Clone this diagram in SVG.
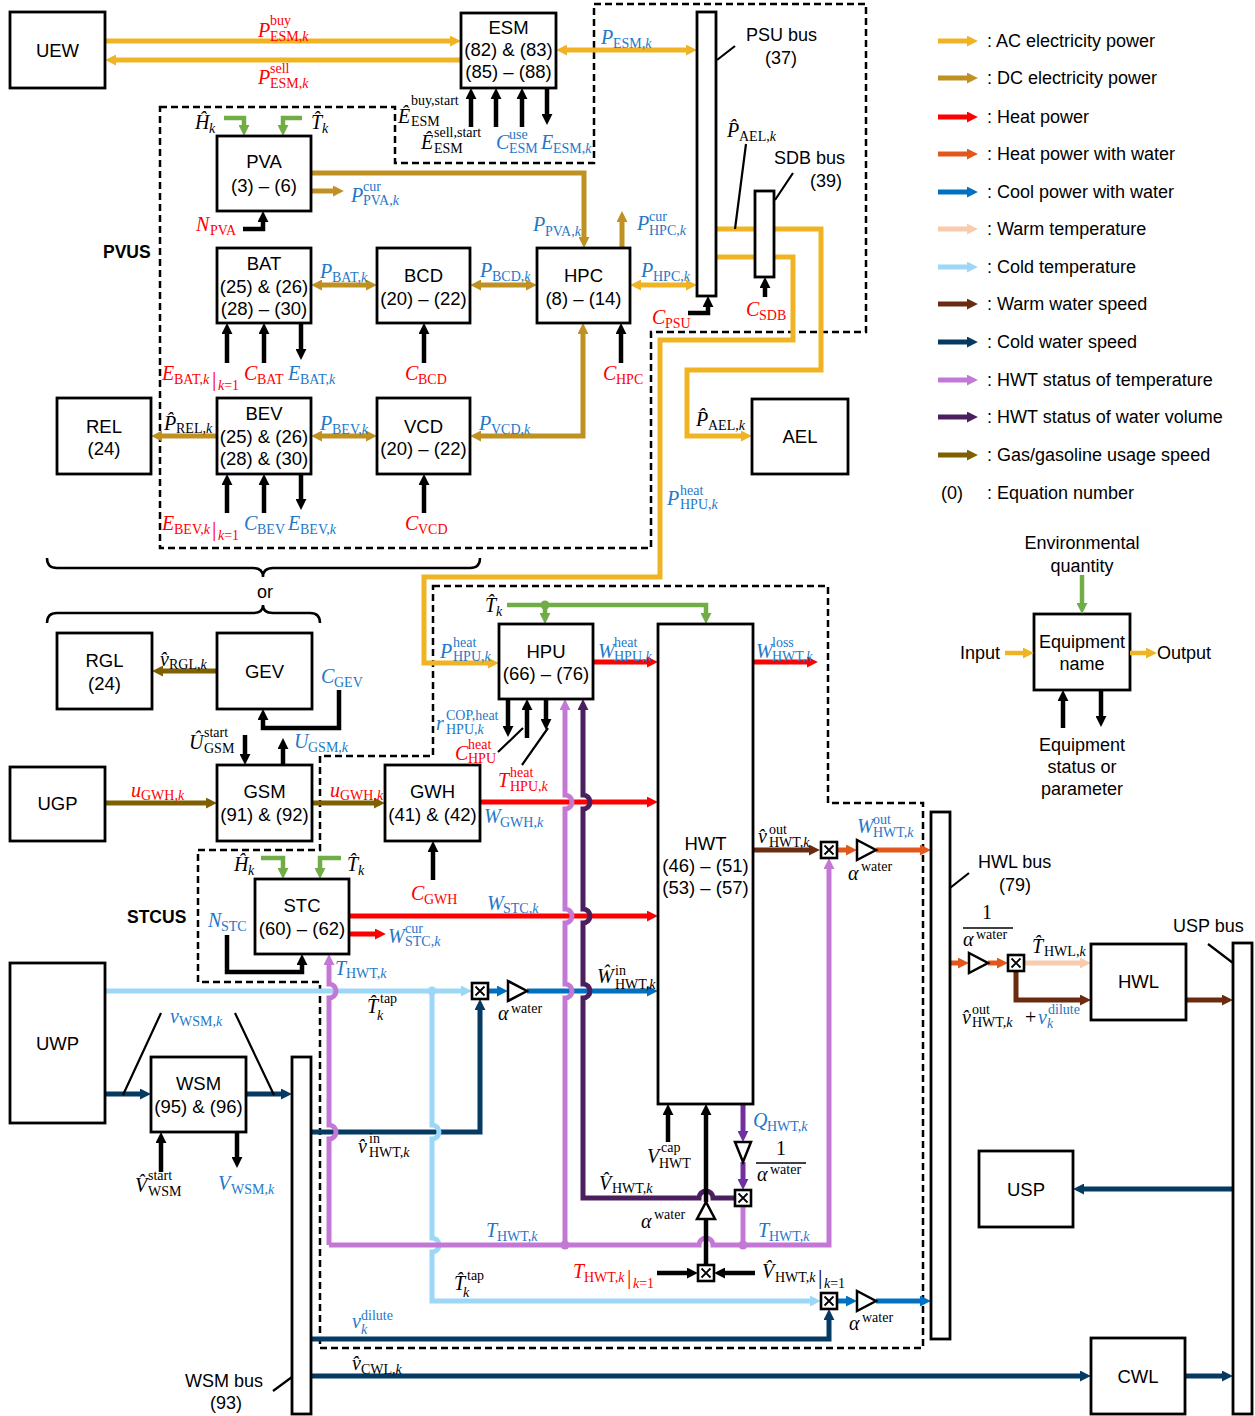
<svg xmlns="http://www.w3.org/2000/svg" width="1255" height="1416" viewBox="0 0 1255 1416">
<style>
.bx{fill:#fff;stroke:#000;stroke-width:2.8}
.t{font-family:"Liberation Sans",Arial,sans-serif;font-size:18.5px;fill:#000;text-anchor:middle}
.tl{font-family:"Liberation Sans",Arial,sans-serif;font-size:18px;fill:#000}
.tc{font-family:"Liberation Sans",Arial,sans-serif;font-size:18px;fill:#000;text-anchor:middle}
.tb{font-family:"Liberation Sans",Arial,sans-serif;font-size:17.5px;font-weight:bold;fill:#000}
.m{font-family:"Liberation Serif","Times New Roman",serif;font-size:20px;font-style:italic;fill:#000}
.s{font-size:14px;font-style:normal}
.i{font-style:italic}
.u{font-style:normal}
.bar{font-size:22px;font-style:normal}
.r{fill:#FF0000}
.b{fill:#1F78C8}
.dash{fill:none;stroke:#000;stroke-width:2.5;stroke-dasharray:7 4}
.thin{fill:none;stroke:#000;stroke-width:2.2}
.ac{stroke:#F0B323}.dc{stroke:#BF9022}.gs{stroke:#7F6000}.ht{stroke:#FF0000}.or{stroke:#E2571B}
.bl{stroke:#0070C0}.wt{stroke:#F8CBAD}.lb{stroke:#9DD7F7}.br{stroke:#6B2B10}.nv{stroke:#053A63}
.vi{stroke:#C478D6}.dp{stroke:#4B1F5E}.pu{stroke:#7030A0}.gr{stroke:#70AD47;stroke-width:4.5}.bk{stroke:#000;stroke-width:4.5}
.tri{fill:#fff;stroke:#000;stroke-width:2.5}
</style>
<defs>
<marker id="mAC" viewBox="0 0 10 10" refX="1" refY="5" markerWidth="11" markerHeight="11" markerUnits="userSpaceOnUse" orient="auto-start-reverse"><path d="M0,0L10,5L0,10Z" fill="#F0B323"/></marker>
<marker id="mDC" viewBox="0 0 10 10" refX="1" refY="5" markerWidth="11" markerHeight="11" markerUnits="userSpaceOnUse" orient="auto-start-reverse"><path d="M0,0L10,5L0,10Z" fill="#BF9022"/></marker>
<marker id="mGS" viewBox="0 0 10 10" refX="1" refY="5" markerWidth="11" markerHeight="11" markerUnits="userSpaceOnUse" orient="auto-start-reverse"><path d="M0,0L10,5L0,10Z" fill="#7F6000"/></marker>
<marker id="mHT" viewBox="0 0 10 10" refX="1" refY="5" markerWidth="11" markerHeight="11" markerUnits="userSpaceOnUse" orient="auto-start-reverse"><path d="M0,0L10,5L0,10Z" fill="#FF0000"/></marker>
<marker id="mOR" viewBox="0 0 10 10" refX="1" refY="5" markerWidth="11" markerHeight="11" markerUnits="userSpaceOnUse" orient="auto-start-reverse"><path d="M0,0L10,5L0,10Z" fill="#E2571B"/></marker>
<marker id="mBL" viewBox="0 0 10 10" refX="1" refY="5" markerWidth="11" markerHeight="11" markerUnits="userSpaceOnUse" orient="auto-start-reverse"><path d="M0,0L10,5L0,10Z" fill="#0070C0"/></marker>
<marker id="mWT" viewBox="0 0 10 10" refX="1" refY="5" markerWidth="11" markerHeight="11" markerUnits="userSpaceOnUse" orient="auto-start-reverse"><path d="M0,0L10,5L0,10Z" fill="#F8CBAD"/></marker>
<marker id="mLB" viewBox="0 0 10 10" refX="1" refY="5" markerWidth="11" markerHeight="11" markerUnits="userSpaceOnUse" orient="auto-start-reverse"><path d="M0,0L10,5L0,10Z" fill="#9DD7F7"/></marker>
<marker id="mBR" viewBox="0 0 10 10" refX="1" refY="5" markerWidth="11" markerHeight="11" markerUnits="userSpaceOnUse" orient="auto-start-reverse"><path d="M0,0L10,5L0,10Z" fill="#6B2B10"/></marker>
<marker id="mNV" viewBox="0 0 10 10" refX="1" refY="5" markerWidth="11" markerHeight="11" markerUnits="userSpaceOnUse" orient="auto-start-reverse"><path d="M0,0L10,5L0,10Z" fill="#053A63"/></marker>
<marker id="mVI" viewBox="0 0 10 10" refX="1" refY="5" markerWidth="11" markerHeight="11" markerUnits="userSpaceOnUse" orient="auto-start-reverse"><path d="M0,0L10,5L0,10Z" fill="#C478D6"/></marker>
<marker id="mDP" viewBox="0 0 10 10" refX="1" refY="5" markerWidth="11" markerHeight="11" markerUnits="userSpaceOnUse" orient="auto-start-reverse"><path d="M0,0L10,5L0,10Z" fill="#4B1F5E"/></marker>
<marker id="mPU" viewBox="0 0 10 10" refX="1" refY="5" markerWidth="11" markerHeight="11" markerUnits="userSpaceOnUse" orient="auto-start-reverse"><path d="M0,0L10,5L0,10Z" fill="#7030A0"/></marker>
<marker id="mGR" viewBox="0 0 10 10" refX="1" refY="5" markerWidth="11" markerHeight="11" markerUnits="userSpaceOnUse" orient="auto-start-reverse"><path d="M0,0L10,5L0,10Z" fill="#70AD47"/></marker>
<marker id="mBK" viewBox="0 0 10 10" refX="1" refY="5" markerWidth="11" markerHeight="11" markerUnits="userSpaceOnUse" orient="auto-start-reverse"><path d="M0,0L10,5L0,10Z" fill="#000"/></marker>
<g id="xb"><rect x="-8" y="-8" width="16" height="16" fill="#fff" stroke="#000" stroke-width="2.6"/><path d="M-4.5,-4.5L4.5,4.5M4.5,-4.5L-4.5,4.5" stroke="#000" stroke-width="1.8"/></g>
</defs>
<rect width="1255" height="1416" fill="#fff"/>

<!-- dashed subsystem boundaries -->
<g id="subsystems">
<path class="dash" d="M160,107H395V163H594V4H866V332H651V548H160Z"/>
<path class="dash" d="M433,586H828V803H923V1348H320V982H198V850H320V756H433Z"/>
<path fill="none" stroke="#000" stroke-width="2.5" d="M47,558Q47,568 57,568H253Q263,568 263,577Q263,568 273,568H470Q480,568 480,558"/>
<path fill="none" stroke="#000" stroke-width="2.5" d="M47,623Q47,613 57,613H253Q263,613 263,605Q263,613 273,613H310Q320,613 320,623"/>
</g>

<g id="connectors" fill="none" stroke-width="5">
<!-- AC -->
<path class="ac" d="M105,41H451" marker-end="url(#mAC)"/>
<path class="ac" d="M461,60H115" marker-end="url(#mAC)"/>
<path class="ac" d="M566,50H687" marker-start="url(#mAC)" marker-end="url(#mAC)"/>
<path class="ac" d="M640,285H687" marker-start="url(#mAC)" marker-end="url(#mAC)"/>
<path class="ac" d="M716,229H821V370H687V436H742" marker-end="url(#mAC)"/>
<path class="ac" d="M716,257H793V340H660V577H424V663H489" marker-end="url(#mAC)"/>
<!-- DC -->
<path class="dc" d="M311,173H584V238" marker-end="url(#mDC)"/>
<path class="dc" d="M311,191H334" marker-end="url(#mDC)"/>
<path class="dc" d="M321,285H367" marker-start="url(#mDC)" marker-end="url(#mDC)"/>
<path class="dc" d="M480,285H527" marker-start="url(#mDC)" marker-end="url(#mDC)"/>
<path class="dc" d="M622,248V221" marker-end="url(#mDC)"/>
<path class="dc" d="M480,436H583V333" marker-start="url(#mDC)" marker-end="url(#mDC)"/>
<path class="dc" d="M217,436H161" marker-end="url(#mDC)"/>
<path class="dc" d="M321,436H367" marker-start="url(#mDC)" marker-end="url(#mDC)"/>
<!-- gas -->
<path class="gs" d="M217,671H162" marker-end="url(#mGS)"/>
<path class="gs" d="M105,803H207" marker-end="url(#mGS)"/>
<path class="gs" d="M312,803H375" marker-end="url(#mGS)"/>
<!-- heat -->
<path class="ht" d="M480,802H648" marker-end="url(#mHT)"/>
<path class="ht" d="M593,662H648" marker-end="url(#mHT)"/>
<path class="ht" d="M753,662H808" marker-end="url(#mHT)"/>
<path class="ht" d="M349,916H648" marker-end="url(#mHT)"/>
<path class="ht" d="M349,934H376" marker-end="url(#mHT)"/>
<!-- warm water / heat with water -->
<path class="br" d="M753,850H810" marker-end="url(#mBR)"/>
<path class="or" d="M837,850H847" marker-end="url(#mOR)"/>
<path class="or" d="M876,850H921" marker-end="url(#mOR)"/>
<path class="or" d="M950,963H959" marker-end="url(#mOR)"/>
<path class="or" d="M988,963H998" marker-end="url(#mOR)"/>
<path class="wt" d="M1024,963H1081" marker-end="url(#mWT)"/>
<path class="br" d="M1016,971V1000H1081" marker-end="url(#mBR)"/>
<path class="br" d="M1186,1000H1223" marker-end="url(#mBR)"/>
<!-- cold water -->
<path class="lb" d="M105,991H462" marker-end="url(#mLB)"/>
<path class="bl" d="M488,991H498" marker-end="url(#mBL)"/>
<path class="bl" d="M527,991H648" marker-end="url(#mBL)"/>
<path class="nv" d="M105,1094H141" marker-end="url(#mNV)"/>
<path class="nv" d="M246,1094H282" marker-end="url(#mNV)"/>
<path class="nv" d="M311,1132H480V1009" marker-end="url(#mNV)"/>
<path class="nv" d="M311,1339H829V1319" marker-end="url(#mNV)"/>
<path class="nv" d="M311,1376H1081" marker-end="url(#mNV)"/>
<path class="nv" d="M1185,1376H1223" marker-end="url(#mNV)"/>
<path class="nv" d="M1233,1189H1083" marker-end="url(#mNV)"/>
<path class="lb" d="M432,991V1125A7,7 0 0 1 432,1139V1238A7,7 0 0 1 432,1252V1301H811" marker-end="url(#mLB)"/>
<path class="bl" d="M837,1301H847" marker-end="url(#mBL)"/>
<path class="bl" d="M876,1301H921" marker-end="url(#mBL)"/>
<!-- HWT status -->
<path class="pu" d="M743,1104V1132" marker-end="url(#mPU)"/>
<path class="pu" d="M743,1162V1180" marker-end="url(#mPU)"/>
<path class="vi" d="M329,1245V1139A7,7 0 0 0 329,1125V998A7,7 0 0 0 329,984V964" marker-end="url(#mVI)"/>
<path class="vi" d="M329,1245H699A7,7 0 0 1 713,1245H829V868" marker-end="url(#mVI)"/>
<path class="vi" d="M565,1245V998A7,7 0 0 0 565,984V923A7,7 0 0 0 565,909V809A7,7 0 0 0 565,795V709" marker-end="url(#mVI)"/>
<path class="vi" d="M743,1245V1206"/>
<path class="dp" d="M735,1198H713A7,7 0 0 0 699,1198H583V998A7,7 0 0 0 583,984V923A7,7 0 0 0 583,909V809A7,7 0 0 0 583,795V709" marker-end="url(#mDP)"/>
<circle cx="565" cy="1245" r="4.5" fill="#C478D6"/>
<circle cx="743" cy="1245" r="4.5" fill="#C478D6"/>
<circle cx="432" cy="991" r="4.5" fill="#9DD7F7"/>
<!-- environment -->
<path class="gr" d="M224,118H244V126" marker-end="url(#mGR)"/>
<path class="gr" d="M302,118H283V126" marker-end="url(#mGR)"/>
<path class="gr" d="M261,858H283V869" marker-end="url(#mGR)"/>
<path class="gr" d="M341,858H320V869" marker-end="url(#mGR)"/>
<path class="gr" d="M507,605H706V614" marker-end="url(#mGR)"/>
<path class="gr" d="M545,605V614" marker-end="url(#mGR)"/>
<circle cx="545" cy="605" r="4.5" fill="#70AD47"/>
<!-- status / parameters -->
<path class="bk" d="M471,127V98" marker-end="url(#mBK)"/>
<path class="bk" d="M496,127V98" marker-end="url(#mBK)"/>
<path class="bk" d="M522,127V98" marker-end="url(#mBK)"/>
<path class="bk" d="M547,88V115" marker-end="url(#mBK)"/>
<path class="bk" d="M243,229H263V221" marker-end="url(#mBK)"/>
<path class="bk" d="M227,363V333" marker-end="url(#mBK)"/>
<path class="bk" d="M264,363V333" marker-end="url(#mBK)"/>
<path class="bk" d="M301,323V350" marker-end="url(#mBK)"/>
<path class="bk" d="M424,363V333" marker-end="url(#mBK)"/>
<path class="bk" d="M621,363V333" marker-end="url(#mBK)"/>
<path class="bk" d="M227,513V484" marker-end="url(#mBK)"/>
<path class="bk" d="M264,513V484" marker-end="url(#mBK)"/>
<path class="bk" d="M301,474V500" marker-end="url(#mBK)"/>
<path class="bk" d="M424,513V484" marker-end="url(#mBK)"/>
<path class="bk" d="M688,313H708V306" marker-end="url(#mBK)"/>
<path class="bk" d="M765,297V287" marker-end="url(#mBK)"/>
<path class="bk" d="M339,690V728H263V719" marker-end="url(#mBK)"/>
<path class="bk" d="M245,735V755" marker-end="url(#mBK)"/>
<path class="bk" d="M283,765V748" marker-end="url(#mBK)"/>
<path class="bk" d="M433,880V851" marker-end="url(#mBK)"/>
<path class="bk" d="M227,935V972H302V964" marker-end="url(#mBK)"/>
<path class="bk" d="M508,699V727" marker-end="url(#mBK)"/>
<path class="bk" d="M527,738V709" marker-end="url(#mBK)"/>
<path class="bk" d="M546,699V720" marker-end="url(#mBK)"/>
<path class="bk" d="M668,1142V1114" marker-end="url(#mBK)"/>
<path class="bk" d="M706,1265V1219"/>
<path class="bk" d="M706,1202V1114" marker-end="url(#mBK)"/>
<path class="bk" d="M657,1273H688" marker-end="url(#mBK)"/>
<path class="bk" d="M755,1273H724" marker-end="url(#mBK)"/>
<path class="bk" d="M161,1172V1142" marker-end="url(#mBK)"/>
<path class="bk" d="M237,1132V1158" marker-end="url(#mBK)"/>
<!-- pointer lines -->
<path class="thin" d="M498,752L523,728M522,765L548,728"/>
<path class="thin" d="M717,60L735,46M775,200L793,173M746,144L735,229"/>
<path class="thin" d="M950,888L969,873M1208,944L1233,963M273,1391L292,1377"/>
<path class="thin" d="M123,1095L161,1013M235,1013L274,1095"/>
</g>

<!-- operators -->
<g id="operators">
<use href="#xb" x="829" y="850"/>
<use href="#xb" x="480" y="991"/>
<use href="#xb" x="829" y="1301"/>
<use href="#xb" x="706" y="1273"/>
<use href="#xb" x="743" y="1198"/>
<use href="#xb" x="1016" y="963"/>
<path class="tri" d="M857,840L857,860L876,850Z"/>
<path class="tri" d="M508,981L508,1001L527,991Z"/>
<path class="tri" d="M857,1291L857,1311L876,1301Z"/>
<path class="tri" d="M969,953L969,973L988,963Z"/>
<path class="tri" d="M735,1142L751,1142L743,1162Z"/>
<path class="tri" d="M697,1219L715,1219L706,1202Z"/>
</g>

<!-- nodes -->
<g id="UEW"><rect class="bx" x="10" y="12" width="95" height="76"/><text class="t" x="57.5" y="57">UEW</text></g>
<g id="ESM"><rect class="bx" x="461" y="13" width="95" height="75"/><text class="t" x="508.5" y="34">ESM</text><text class="t" x="508.5" y="56">(82) &amp; (83)</text><text class="t" x="508.5" y="78">(85) – (88)</text></g>
<g id="PSUbus"><rect class="bx" x="697" y="12" width="19" height="284"/><text class="tl" x="746" y="41">PSU bus</text><text class="tc" x="781" y="64">(37)</text></g>
<g id="SDBbus"><rect class="bx" x="755" y="191" width="19" height="86"/><text class="tl" x="774" y="164">SDB bus</text><text class="tc" x="826" y="187">(39)</text></g>
<g id="PVA"><rect class="bx" x="217" y="136" width="94" height="75"/><text class="t" x="264" y="168">PVA</text><text class="t" x="264" y="192">(3) – (6)</text></g>
<g id="BAT"><rect class="bx" x="217" y="248" width="94" height="75"/><text class="t" x="264" y="270">BAT</text><text class="t" x="264" y="293">(25) &amp; (26)</text><text class="t" x="264" y="315">(28) – (30)</text></g>
<g id="BCD"><rect class="bx" x="377" y="248" width="93" height="75"/><text class="t" x="423.5" y="282">BCD</text><text class="t" x="423.5" y="305">(20) – (22)</text></g>
<g id="HPC"><rect class="bx" x="537" y="248" width="93" height="75"/><text class="t" x="583.5" y="282">HPC</text><text class="t" x="583.5" y="305">(8) – (14)</text></g>
<g id="REL"><rect class="bx" x="57" y="398" width="94" height="76"/><text class="t" x="104" y="433">REL</text><text class="t" x="104" y="455">(24)</text></g>
<g id="BEV"><rect class="bx" x="217" y="398" width="94" height="76"/><text class="t" x="264" y="420">BEV</text><text class="t" x="264" y="443">(25) &amp; (26)</text><text class="t" x="264" y="465">(28) &amp; (30)</text></g>
<g id="VCD"><rect class="bx" x="377" y="398" width="93" height="76"/><text class="t" x="423.5" y="433">VCD</text><text class="t" x="423.5" y="455">(20) – (22)</text></g>
<g id="AEL"><rect class="bx" x="752" y="399" width="96" height="75"/><text class="t" x="800" y="443">AEL</text></g>
<g id="RGL"><rect class="bx" x="57" y="633" width="95" height="76"/><text class="t" x="104.5" y="667">RGL</text><text class="t" x="104.5" y="690">(24)</text></g>
<g id="GEV"><rect class="bx" x="217" y="633" width="95" height="76"/><text class="t" x="264.5" y="678">GEV</text></g>
<g id="UGP"><rect class="bx" x="10" y="767" width="95" height="74"/><text class="t" x="57.5" y="810">UGP</text></g>
<g id="GSM"><rect class="bx" x="217" y="765" width="95" height="76"/><text class="t" x="264.5" y="798">GSM</text><text class="t" x="264.5" y="821">(91) &amp; (92)</text></g>
<g id="GWH"><rect class="bx" x="385" y="765" width="95" height="76"/><text class="t" x="432.5" y="798">GWH</text><text class="t" x="432.5" y="821">(41) &amp; (42)</text></g>
<g id="STC"><rect class="bx" x="255" y="879" width="94" height="75"/><text class="t" x="302" y="912">STC</text><text class="t" x="302" y="935">(60) – (62)</text></g>
<g id="HPU"><rect class="bx" x="499" y="624" width="94" height="75"/><text class="t" x="546" y="658">HPU</text><text class="t" x="546" y="680">(66) – (76)</text></g>
<g id="HWT"><rect class="bx" x="658" y="624" width="95" height="480"/><text class="t" x="705.5" y="850">HWT</text><text class="t" x="705.5" y="872">(46) – (51)</text><text class="t" x="705.5" y="894">(53) – (57)</text></g>
<g id="HWLbus"><rect class="bx" x="931" y="812" width="19" height="527"/><text class="tl" x="978" y="868">HWL bus</text><text class="tc" x="1015" y="891">(79)</text></g>
<g id="HWL"><rect class="bx" x="1091" y="944" width="95" height="76"/><text class="t" x="1138.5" y="988">HWL</text></g>
<g id="USPbus"><rect class="bx" x="1233" y="943" width="19" height="471"/><text class="tl" x="1173" y="932">USP bus</text></g>
<g id="USP"><rect class="bx" x="979" y="1151" width="94" height="76"/><text class="t" x="1026" y="1196">USP</text></g>
<g id="CWL"><rect class="bx" x="1091" y="1338" width="94" height="76"/><text class="t" x="1138" y="1383">CWL</text></g>
<g id="UWP"><rect class="bx" x="10" y="963" width="95" height="160"/><text class="t" x="57.5" y="1050">UWP</text></g>
<g id="WSM"><rect class="bx" x="151" y="1057" width="95" height="75"/><text class="t" x="198.5" y="1090">WSM</text><text class="t" x="198.5" y="1113">(95) &amp; (96)</text></g>
<g id="WSMbus"><rect class="bx" x="292" y="1057" width="19" height="357"/><text class="tl" x="185" y="1387">WSM bus</text><text class="tc" x="226" y="1409">(93)</text></g>

<!-- subsystem labels -->
<text class="tb" x="103" y="258">PVUS</text>
<text class="tb" x="127" y="923">STCUS</text>
<text class="tc" x="265" y="598">or</text>

<!-- math labels -->
<g id="labels">
<text class="m r" x="258" y="37">P<tspan class="s" x="270" y="25">buy</tspan><tspan class="s" x="270" y="41">ESM,<tspan class="i">k</tspan></tspan></text>
<text class="m r" x="258" y="84">P<tspan class="s" x="270" y="73">sell</tspan><tspan class="s" x="270" y="88">ESM,<tspan class="i">k</tspan></tspan></text>
<text class="m b" x="601" y="44">P<tspan class="s" x="613" y="48">ESM,<tspan class="i">k</tspan></tspan></text>
<text class="m" x="398" y="123">Ê<tspan class="s" x="411" y="105">buy,start</tspan><tspan class="s" x="411" y="126">ESM</tspan></text>
<text class="m" x="421" y="149">Ê<tspan class="s" x="434" y="137">sell,start</tspan><tspan class="s" x="434" y="153">ESM</tspan></text>
<text class="m b" x="496" y="149">C<tspan class="s" x="509" y="139">use</tspan><tspan class="s" x="509" y="153">ESM</tspan></text>
<text class="m b" x="541" y="149">E<tspan class="s" x="553" y="153">ESM,<tspan class="i">k</tspan></tspan></text>
<text class="m" x="195" y="129">Ĥ<tspan class="s i" x="209" y="133">k</tspan></text>
<text class="m" x="311" y="129">T&#x302;<tspan class="s i" x="322" y="133">k</tspan></text>
<text class="m b" x="351" y="202">P<tspan class="s" x="363" y="191">cur</tspan><tspan class="s" x="363" y="205">PVA,<tspan class="i">k</tspan></tspan></text>
<text class="m r" x="196" y="231">N<tspan class="s" x="210" y="235">PVA</tspan></text>
<text class="m b" x="533" y="231">P<tspan class="s" x="545" y="236">PVA,<tspan class="i">k</tspan></tspan></text>
<text class="m b" x="637" y="230">P<tspan class="s" x="649" y="221">cur</tspan><tspan class="s" x="649" y="235">HPC,<tspan class="i">k</tspan></tspan></text>
<text class="m b" x="641" y="277">P<tspan class="s" x="653" y="281">HPC,<tspan class="i">k</tspan></tspan></text>
<text class="m b" x="480" y="277">P<tspan class="s" x="492" y="281">BCD,<tspan class="i">k</tspan></tspan></text>
<text class="m b" x="320" y="278">P<tspan class="s" x="332" y="282">BAT,<tspan class="i">k</tspan></tspan></text>
<text class="m" x="727" y="137">P&#x302;<tspan class="s" x="739" y="141">AEL,<tspan class="i">k</tspan></tspan></text>
<text class="m r" x="652" y="324">C<tspan class="s" x="665" y="328">PSU</tspan></text>
<text class="m r" x="746" y="316">C<tspan class="s" x="759" y="320">SDB</tspan></text>
<text class="m r" x="162" y="380">E<tspan class="s" x="174" y="384">BAT,<tspan class="i">k</tspan></tspan><tspan class="bar" x="212" y="386">|</tspan><tspan class="s" x="218" y="390"><tspan class="i">k</tspan>=1</tspan></text>
<text class="m r" x="244" y="380">C<tspan class="s" x="257" y="384">BAT</tspan></text>
<text class="m b" x="288" y="380">E<tspan class="s" x="300" y="384">BAT,<tspan class="i">k</tspan></tspan></text>
<text class="m r" x="405" y="380">C<tspan class="s" x="418" y="384">BCD</tspan></text>
<text class="m r" x="603" y="380">C<tspan class="s" x="616" y="384">HPC</tspan></text>
<text class="m" x="164" y="430">P&#x302;<tspan class="s" x="176" y="433">REL,<tspan class="i">k</tspan></tspan></text>
<text class="m b" x="320" y="430">P<tspan class="s" x="332" y="434">BEV,<tspan class="i">k</tspan></tspan></text>
<text class="m b" x="479" y="430">P<tspan class="s" x="491" y="434">VCD,<tspan class="i">k</tspan></tspan></text>
<text class="m r" x="162" y="530">E<tspan class="s" x="174" y="534">BEV,<tspan class="i">k</tspan></tspan><tspan class="bar" x="212" y="536">|</tspan><tspan class="s" x="218" y="540"><tspan class="i">k</tspan>=1</tspan></text>
<text class="m b" x="244" y="530">C<tspan class="s" x="257" y="534">BEV</tspan></text>
<text class="m b" x="288" y="530">E<tspan class="s" x="300" y="534">BEV,<tspan class="i">k</tspan></tspan></text>
<text class="m r" x="405" y="530">C<tspan class="s" x="418" y="534">VCD</tspan></text>
<text class="m" x="696" y="426">P&#x302;<tspan class="s" x="708" y="430">AEL,<tspan class="i">k</tspan></tspan></text>
<text class="m b" x="667" y="505">P<tspan class="s" x="680" y="495">heat</tspan><tspan class="s" x="680" y="509">HPU,<tspan class="i">k</tspan></tspan></text>
<text class="m" x="160" y="666">v&#x302;<tspan class="s" x="169" y="669">RGL,<tspan class="i">k</tspan></tspan></text>
<text class="m b" x="321" y="683">C<tspan class="s" x="334" y="687">GEV</tspan></text>
<text class="m" x="189" y="749">Û<tspan class="s" x="204" y="737">start</tspan><tspan class="s" x="204" y="753">GSM</tspan></text>
<text class="m b" x="294" y="748">U<tspan class="s" x="308" y="752">GSM,<tspan class="i">k</tspan></tspan></text>
<text class="m r" x="131" y="797">u<tspan class="s" x="141" y="800">GWH,<tspan class="i">k</tspan></tspan></text>
<text class="m r" x="330" y="797">u<tspan class="s" x="340" y="800">GWH,<tspan class="i">k</tspan></tspan></text>
<text class="m b" x="484" y="823">W<tspan class="s" x="500" y="827">GWH,<tspan class="i">k</tspan></tspan></text>
<text class="m r" x="411" y="900">C<tspan class="s" x="424" y="904">GWH</tspan></text>
<text class="m" x="234" y="871">Ĥ<tspan class="s i" x="248" y="875">k</tspan></text>
<text class="m" x="347" y="871">T&#x302;<tspan class="s i" x="358" y="875">k</tspan></text>
<text class="m b" x="208" y="927">N<tspan class="s" x="221" y="931">STC</tspan></text>
<text class="m b" x="388" y="943">W<tspan class="s" x="405" y="933">cur</tspan><tspan class="s" x="405" y="946">STC,<tspan class="i">k</tspan></tspan></text>
<text class="m b" x="487" y="910">W<tspan class="s" x="503" y="913">STC,<tspan class="i">k</tspan></tspan></text>
<text class="m b" x="335" y="975">T<tspan class="s" x="346" y="978">HWT,<tspan class="i">k</tspan></tspan></text>
<text class="m" x="367" y="1013">T&#x302;<tspan class="s" x="380" y="1003">tap</tspan><tspan class="s i" x="377" y="1020">k</tspan></text>
<text class="m" x="485" y="612">T&#x302;<tspan class="s i" x="496" y="616">k</tspan></text>
<text class="m b" x="440" y="658">P<tspan class="s" x="453" y="647">heat</tspan><tspan class="s" x="453" y="661">HPU,<tspan class="i">k</tspan></tspan></text>
<text class="m b" x="598" y="658">W<tspan class="s" x="614" y="647">heat</tspan><tspan class="s" x="614" y="661">HPU,<tspan class="i">k</tspan></tspan></text>
<text class="m b" x="756" y="658">W<tspan class="s" x="772" y="647">loss</tspan><tspan class="s" x="772" y="661">HWT,<tspan class="i">k</tspan></tspan></text>
<text class="m b" x="436" y="730">r<tspan class="s" x="446" y="720">COP,heat</tspan><tspan class="s" x="446" y="734">HPU,<tspan class="i">k</tspan></tspan></text>
<text class="m r" x="455" y="760">C<tspan class="s" x="468" y="749">heat</tspan><tspan class="s" x="468" y="763">HPU</tspan></text>
<text class="m r" x="498" y="787">T<tspan class="s" x="510" y="777">heat</tspan><tspan class="s" x="510" y="791">HPU,<tspan class="i">k</tspan></tspan></text>
<text class="m" x="758" y="843">v&#x302;<tspan class="s" x="769" y="834">out</tspan><tspan class="s" x="769" y="847">HWT,<tspan class="i">k</tspan></tspan></text>
<text class="m b" x="857" y="833">W<tspan class="s" x="873" y="824">out</tspan><tspan class="s" x="873" y="837">HWT,<tspan class="i">k</tspan></tspan></text>
<text class="m" x="848" y="880">α<tspan class="s" x="861" y="871">water</tspan></text>
<text class="m" x="597" y="983">Ŵ<tspan class="s" x="615" y="975">in</tspan><tspan class="s" x="615" y="989">HWT,<tspan class="i">k</tspan></tspan></text>
<text class="m" x="498" y="1020">α<tspan class="s" x="511" y="1013">water</tspan></text>
<text class="m" x="358" y="1153">v&#x302;<tspan class="s" x="369" y="1143">in</tspan><tspan class="s" x="369" y="1157">HWT,<tspan class="i">k</tspan></tspan></text>
<text class="m b" x="753" y="1127">Q<tspan class="s" x="767" y="1131">HWT,<tspan class="i">k</tspan></tspan></text>
<text class="m u" x="781" y="1155" text-anchor="middle">1</text>
<path d="M756,1163H806" stroke="#000" stroke-width="1.5"/>
<text class="m" x="757" y="1181">α<tspan class="s" x="770" y="1174">water</tspan></text>
<text class="m" x="647" y="1163">V<tspan class="s" x="661" y="1152">cap</tspan><tspan class="s" x="659" y="1168">HWT</tspan></text>
<text class="m" x="599" y="1190">V&#x302;<tspan class="s" x="612" y="1193">HWT,<tspan class="i">k</tspan></tspan></text>
<text class="m" x="641" y="1228">α<tspan class="s" x="654" y="1219">water</tspan></text>
<text class="m b" x="486" y="1237">T<tspan class="s" x="497" y="1241">HWT,<tspan class="i">k</tspan></tspan></text>
<text class="m b" x="758" y="1237">T<tspan class="s" x="769" y="1241">HWT,<tspan class="i">k</tspan></tspan></text>
<text class="m r" x="573" y="1278">T<tspan class="s" x="584" y="1282">HWT,<tspan class="i">k</tspan></tspan><tspan class="bar" x="627" y="1284">|</tspan><tspan class="s" x="633" y="1288"><tspan class="i">k</tspan>=1</tspan></text>
<text class="m" x="762" y="1278">V&#x302;<tspan class="s" x="775" y="1282">HWT,<tspan class="i">k</tspan></tspan><tspan class="bar" x="818" y="1284">|</tspan><tspan class="s" x="824" y="1288"><tspan class="i">k</tspan>=1</tspan></text>
<text class="m" x="454" y="1290">T&#x302;<tspan class="s" x="467" y="1280">tap</tspan><tspan class="s i" x="463" y="1297">k</tspan></text>
<text class="m b" x="352" y="1328">v<tspan class="s" x="361" y="1320">dilute</tspan><tspan class="s i" x="361" y="1334">k</tspan></text>
<text class="m" x="849" y="1330">α<tspan class="s" x="862" y="1322">water</tspan></text>
<text class="m" x="352" y="1370">v&#x302;<tspan class="s" x="361" y="1374">CWL,<tspan class="i">k</tspan></tspan></text>
<text class="m b" x="170" y="1023">v<tspan class="s" x="179" y="1026">WSM,<tspan class="i">k</tspan></tspan></text>
<text class="m" x="135" y="1192">V&#x302;<tspan class="s" x="148" y="1180">start</tspan><tspan class="s" x="148" y="1196">WSM</tspan></text>
<text class="m b" x="218" y="1190">V<tspan class="s" x="231" y="1194">WSM,<tspan class="i">k</tspan></tspan></text>
<text class="m u" x="987" y="919" text-anchor="middle">1</text>
<path d="M963,928H1013" stroke="#000" stroke-width="1.5"/>
<text class="m" x="963" y="946">α<tspan class="s" x="976" y="939">water</tspan></text>
<text class="m" x="1032" y="953">T&#x302;<tspan class="s" x="1044" y="956">HWL,<tspan class="i">k</tspan></tspan></text>
<text class="m" x="962" y="1024">v&#x302;<tspan class="s" x="972" y="1014">out</tspan><tspan class="s" x="972" y="1027">HWT,<tspan class="i">k</tspan></tspan><tspan class="u" x="1020" y="1024"> +</tspan></text>
<text class="m b" x="1038" y="1024">v<tspan class="s" x="1048" y="1014">dilute</tspan><tspan class="s i" x="1047" y="1028">k</tspan></text>
</g>

<!-- legend -->
<g id="legend" fill="none" stroke-width="5">
<path class="ac" d="M938,41H968" marker-end="url(#mAC)"/>
<path class="dc" d="M938,78H968" marker-end="url(#mDC)"/>
<path class="ht" d="M938,117H968" marker-end="url(#mHT)"/>
<path class="or" d="M938,154H968" marker-end="url(#mOR)"/>
<path class="bl" d="M938,192H968" marker-end="url(#mBL)"/>
<path class="wt" d="M938,229H968" marker-end="url(#mWT)"/>
<path class="lb" d="M938,267H968" marker-end="url(#mLB)"/>
<path class="br" d="M938,304H968" marker-end="url(#mBR)"/>
<path class="nv" d="M938,342H968" marker-end="url(#mNV)"/>
<path class="vi" d="M938,380H968" marker-end="url(#mVI)"/>
<path class="dp" d="M938,417H968" marker-end="url(#mDP)"/>
<path class="gs" d="M938,455H968" marker-end="url(#mGS)"/>
</g>
<g id="legend-text">
<text class="tl" x="987" y="47">: AC electricity power</text>
<text class="tl" x="987" y="84">: DC electricity power</text>
<text class="tl" x="987" y="123">: Heat power</text>
<text class="tl" x="987" y="160">: Heat power with water</text>
<text class="tl" x="987" y="198">: Cool power with water</text>
<text class="tl" x="987" y="235">: Warm temperature</text>
<text class="tl" x="987" y="273">: Cold temperature</text>
<text class="tl" x="987" y="310">: Warm water speed</text>
<text class="tl" x="987" y="348">: Cold water speed</text>
<text class="tl" x="987" y="386">: HWT status of temperature</text>
<text class="tl" x="987" y="423">: HWT status of water volume</text>
<text class="tl" x="987" y="461">: Gas/gasoline usage speed</text>
<text class="tl" x="941" y="499">(0)</text>
<text class="tl" x="987" y="499">: Equation number</text>
</g>
<g id="legend-node">
<rect class="bx" x="1034" y="614" width="96" height="76"/>
<text class="tc" x="1082" y="648">Equipment</text>
<text class="tc" x="1082" y="670">name</text>
<text class="tc" x="1082" y="549">Environmental</text>
<text class="tc" x="1082" y="572">quantity</text>
<text class="tl" x="1000" y="659" text-anchor="end">Input</text>
<text class="tl" x="1157" y="659">Output</text>
<text class="tc" x="1082" y="751">Equipment</text>
<text class="tc" x="1082" y="773">status or</text>
<text class="tc" x="1082" y="795">parameter</text>
<g fill="none" stroke-width="4.5">
<path class="gr" d="M1082,575V604" marker-end="url(#mGR)"/>
<path class="ac" d="M1005,653H1024" marker-end="url(#mAC)"/>
<path class="ac" d="M1130,653H1147" marker-end="url(#mAC)"/>
<path class="bk" d="M1063,728V700" marker-end="url(#mBK)"/>
<path class="bk" d="M1101,690V717" marker-end="url(#mBK)"/>
</g>
</g>
</svg>
